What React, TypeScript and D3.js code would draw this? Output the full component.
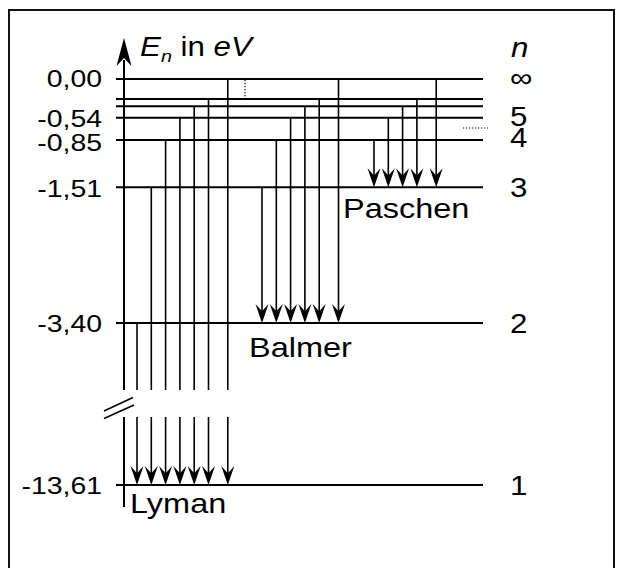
import React from "react";
import * as d3 from "d3";

// ---- data ----
const levelN = [1, 2, 3, 4, 5, 6, 7, Infinity];
const levelE = [-13.61, -3.4, -1.51, -0.85, -0.54, -0.38, -0.28, 0];
const tickValues = [0, -0.54, -0.85, -1.51, -3.4, -13.61];
const tickLabels = ["0,00", "-0,54", "-0,85", "-1,51", "-3,40", "-13,61"];
const nLabelValues = [0, -0.54, -0.85, -1.51, -3.4, -13.61];
const nLabels = ["∞", "5", "4", "3", "2", "1"];
const seriesNames = ["Lyman", "Balmer", "Paschen"];
const seriesTarget = [1, 2, 3];
const seriesFrom = [
  [2, 3, 4, 5, 6, 7, Infinity],
  [3, 4, 5, 6, 7, Infinity],
  [4, 5, 6, 7, Infinity],
];

// ---- layout ----
const W = 624;
const H = 568;
const axisX = 124;
const lineX0 = 116;
const lineX1 = 483;
const seriesStartX = [137, 262, 374];
const step = 14.3;
const infGap = 5;
const labelPos = [
  { x: 130, y: 513 },
  { x: 249, y: 357 },
  { x: 343, y: 218 },
];
const tickLabelDy = [7.5, 9.5, 11, 10, 9, 9];

const energyOf = (n: number) => levelE[levelN.indexOf(n)];

// broken (piecewise) energy scale
const y = d3.scaleLinear().domain([0, -3.4, -13.61]).range([79, 323, 485]);
const breakTop = 390;
const breakBottom = 417;

const FONT = "'Liberation Sans', Arial, Helvetica, sans-serif";
const SX = 1.16;

function arrowDown(x: number, tipY: number, len = 20, hw = 6.5) {
  const p = d3.path();
  p.moveTo(x, tipY);
  p.lineTo(x - hw, tipY - len);
  p.lineTo(x, tipY - len * 0.62);
  p.lineTo(x + hw, tipY - len);
  p.closePath();
  return p.toString();
}

function STxt(props: { x: number; y: number; size: number; children: any; anchor?: string; italic?: boolean }) {
  return (
    <text
      transform={`translate(${props.x},${props.y}) scale(${SX},1)`}
      fontSize={props.size}
      fontFamily={FONT}
      fontStyle={props.italic ? "italic" : "normal"}
      textAnchor={props.anchor || "start"}
      fill="#000"
    >
      {props.children}
    </text>
  );
}

export default function App() {
  return (
    <svg width={W} height={H} style={{ position: "absolute", left: 0, top: 0 }} xmlns="http://www.w3.org/2000/svg">
      <rect x={0} y={0} width={W} height={H} fill="#fff" />
      {/* frame */}
      <path d={`M9,${H + 5} L9,10 L614,10 L614,${H + 5}`} fill="none" stroke="#111" strokeWidth={2} />

      {/* energy level lines */}
      {levelE.map((e, i) => (
        <line key={"lv" + i} x1={lineX0} x2={lineX1} y1={y(e)} y2={y(e)} stroke="#000" strokeWidth={2} />
      ))}

      {/* axis */}
      <line x1={axisX} x2={axisX} y1={60} y2={breakTop} stroke="#000" strokeWidth={2} />
      <line x1={axisX} x2={axisX} y1={breakBottom} y2={507} stroke="#000" strokeWidth={2} />
      <path
        d={(() => {
          const p = d3.path();
          const tip = 38;
          p.moveTo(axisX, tip);
          p.lineTo(axisX - 7.5, tip + 28);
          p.lineTo(axisX, tip + 20);
          p.lineTo(axisX + 7.5, tip + 28);
          p.closePath();
          return p.toString();
        })()}
        fill="#000"
      />

      {/* break marks */}
      <line x1={104} y1={411} x2={133} y2={397.5} stroke="#000" strokeWidth={1.6} />
      <line x1={104} y1={418.5} x2={134} y2={405} stroke="#000" strokeWidth={1.6} />

      {/* transitions */}
      {seriesFrom.map((froms, s) => {
        const target = seriesTarget[s];
        const tipY = y(energyOf(target));
        return froms.map((n, i) => {
          const x = seriesStartX[s] + i * step + (n === Infinity ? infGap : 0);
          const topY = y(energyOf(n));
          const len = 19;
          const segs =
            target === 1
              ? [
                  [topY, breakTop],
                  [breakBottom, tipY - len * 0.6],
                ]
              : [[topY, tipY - len * 0.6]];
          return (
            <g key={`t${s}-${i}`}>
              {segs.map((sg, k) => (
                <line key={k} x1={x} x2={x} y1={sg[0]} y2={sg[1]} stroke="#000" strokeWidth={1.6} />
              ))}
              <path d={arrowDown(x, tipY, len)} fill="#000" />
            </g>
          );
        });
      })}

      {/* dotted hints */}
      <line x1={245} x2={245} y1={y(0) + 1} y2={97} stroke="#000" strokeWidth={1.2} strokeDasharray="1.2,1.8" />
      <line x1={463} x2={489} y1={128} y2={128} stroke="#000" strokeWidth={1.2} strokeDasharray="1.2,1.8" />

      {/* tick labels */}
      {tickValues.map((v, i) => (
        <STxt key={"tl" + i} x={102} y={y(v) + tickLabelDy[i]} size={24.5} anchor="end">
          {tickLabels[i]}
        </STxt>
      ))}

      {/* n labels */}
      <STxt x={511} y={57} size={27} italic>
        n
      </STxt>
      {nLabelValues.map((v, i) => (
        <STxt key={"nl" + i} x={510} y={y(v) + (i === 0 ? 8 : i === 1 ? 8 : i === 2 ? 7 : 10)} size={27}>
          {nLabels[i]}
        </STxt>
      ))}

      {/* axis title */}
      <text transform={`translate(140,56) scale(${SX},1)`} fontFamily={FONT} fontSize={27} fill="#000">
        <tspan fontStyle="italic">E</tspan>
        <tspan fontStyle="italic" fontSize={17} dy={6}>
          n
        </tspan>
        <tspan dy={-6}> in </tspan>
        <tspan fontStyle="italic">eV</tspan>
      </text>

      {/* series labels */}
      {seriesNames.map((name, i) => (
        <STxt key={name} x={labelPos[i].x} y={labelPos[i].y} size={28}>
          {name}
        </STxt>
      ))}
    </svg>
  );
}
